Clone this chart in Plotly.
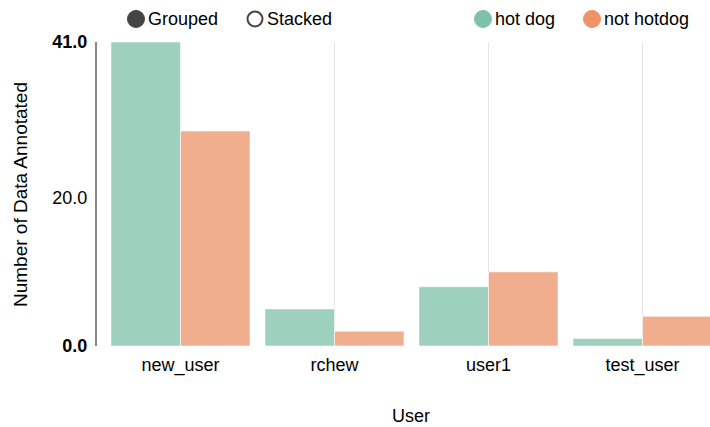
import plotly.graph_objects as go

users = ["new_user", "rchew", "user1", "test_user"]
hot_dog = [41, 5, 8, 1]
not_hotdog = [29, 2, 10, 4]
series_names = ["hot dog", "not hotdog"]
y_tick_vals = [0, 20, 41]
y_tick_text = ["<b>0.0</b>", "20.0", "<b>41.0</b>"]

W, H = 710, 427
plot_left, plot_right, plot_top, plot_bottom = 97, 710, 42, 346
L, T = plot_left, plot_top
R, B = W - plot_right, H - plot_bottom
pw, ph = W - L - R, H - T - B

def px_x(x):
    return (x - plot_left) / pw

def px_y(y):
    return (plot_bottom - y) / ph

FONT = "Liberation Sans, Arial, sans-serif"
FS = 18
bar_colors = ["#9dd0bd", "#f0ae8f"]
legend_colors = ["#7cc2a6", "#ef9268"]

# x range so that category bands are 154px wide, first band starting at x=103.5
band = 154.0
x0 = -0.5 - (103.5 - plot_left) / band
x1 = x0 + (plot_right - plot_left) / band

fig = go.Figure()
for name, vals, col in zip(series_names, [hot_dog, not_hotdog], bar_colors):
    fig.add_trace(go.Bar(
        x=users, y=vals, name=name,
        marker=dict(color=col, line=dict(color="rgba(255,255,255,0.6)", width=1)),
        hoverinfo="x+y+name",
    ))

fig.update_layout(
    width=W, height=H,
    margin=dict(l=L, r=R, t=T, b=B),
    paper_bgcolor="white", plot_bgcolor="white",
    barmode="group", bargap=0.097, bargroupgap=0,
    showlegend=False,
    font=dict(family=FONT, size=FS, color="#000"),
    xaxis=dict(
        type="category", range=[x0, x1],
        showgrid=True, gridcolor="#e6e6e6", gridwidth=1,
        showline=False, zeroline=False, ticks="",
        tickfont=dict(size=FS, color="#000"),
        ticklabelstandoff=6,
    ),
    yaxis=dict(
        range=[0, 41], tickvals=y_tick_vals, ticktext=y_tick_text,
        showgrid=False, zeroline=False,
        showline=True, linecolor="#8a8a8a", linewidth=2,
        ticks="", tickfont=dict(size=FS, color="#000"),
        ticklabelstandoff=4,
    ),
)

annotations = [
    dict(text="Number of Data Annotated", x=px_x(20), y=px_y(195), xref="paper", yref="paper",
         textangle=-90, showarrow=False, font=dict(size=FS + 1, color="#000"), xanchor="center", yanchor="middle"),
    dict(text="User", x=px_x(411), y=px_y(416), xref="paper", yref="paper",
         showarrow=False, font=dict(size=FS, color="#000"), xanchor="center", yanchor="middle"),
]

legend_items = [
    ("Grouped", 136, "filled", "#444444"),
    ("Stacked", 255, "hollow", "#444444"),
    ("hot dog", 483, "filled", legend_colors[0]),
    ("not hotdog", 592, "filled", legend_colors[1]),
]
shapes = []
ly = 19
r = 8.5
for label, cx, style, col in legend_items:
    if style == "filled":
        shapes.append(dict(type="circle", xref="paper", yref="paper", xsizemode="pixel", ysizemode="pixel",
                           xanchor=px_x(cx), yanchor=px_y(ly), x0=-r, x1=r, y0=-r, y1=r,
                           fillcolor=col, line=dict(color=col, width=1)))
    else:
        shapes.append(dict(type="circle", xref="paper", yref="paper", xsizemode="pixel", ysizemode="pixel",
                           xanchor=px_x(cx), yanchor=px_y(ly), x0=-r + 1, x1=r - 1, y0=-r + 1, y1=r - 1,
                           fillcolor="white", line=dict(color=col, width=2)))
    annotations.append(dict(text=label, x=px_x(cx + r + 1), y=px_y(ly), xref="paper", yref="paper",
                            showarrow=False, xanchor="left", yanchor="middle",
                            font=dict(size=FS, color="#000")))

fig.update_layout(annotations=annotations, shapes=shapes)
fig.write_html(
    "out.html",
    config={"displayModeBar": False},
    post_script="document.body.style.margin='0';document.body.style.overflow='hidden';",
)
